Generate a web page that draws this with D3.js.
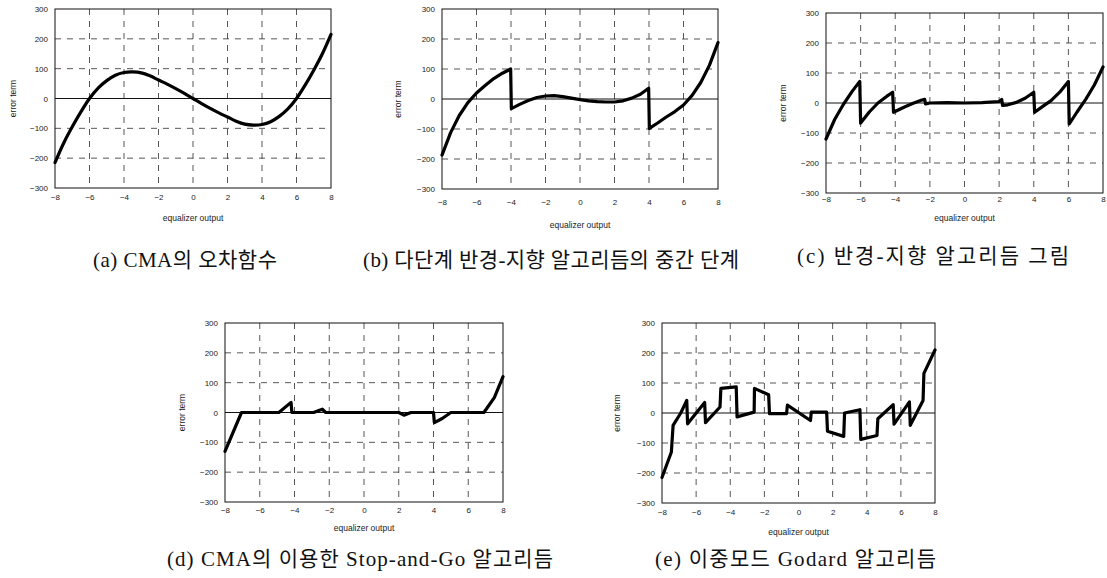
<!DOCTYPE html>
<html>
<head>
<meta charset="utf-8">
<script src="https://cdn.jsdelivr.net/npm/d3@7"></script>
<style>
  body { margin: 0; background: #fff; }
  svg { display: block; }
  .tick text { font-family: "Liberation Sans", Arial, sans-serif; font-size: 8px; fill: #222; }
  .naslov { font-family: "Liberation Sans", Arial, sans-serif; font-size: 8.5px; fill: #222; }
  .opis { font-family: "Liberation Serif", "Noto Sans CJK KR", serif; font-size: 21px; fill: #111; }
</style>
</head>
<body>
<div id="okvir"></div>
<script>
// data
const xTicks = [-8, -6, -4, -2, 0, 2, 4, 6, 8];
const yTicks = [300, 200, 100, 0, -100, -200, -300];
const xLabel = "equalizer output";
const yLabel = "error term";

const captions = [
  "(a) CMA의 오차함수",
  "(b) 다단계 반경-지향 알고리듬의 중간 단계",
  "(c) 반경-지향 알고리듬 그림",
  "(d) CMA의 이용한 Stop-and-Go 알고리듬",
  "(e) 이중모드 Godard 알고리듬"
];

// (a) CMA error function
const xA = [-8,-7.5,-7,-6.5,-6,-5.5,-5,-4.5,-4,-3.5,-3,-2.5,-2,-1.5,-1,-0.5,0,
            0.5,1,1.5,2,2.5,3,3.5,4,4.5,5,5.5,6,6.5,7,7.5,8];
const yA = [-215,-150,-95,-45,0,35,60,78,87,89,86,76,62,48,33,17,0,
            -17,-33,-48,-62,-76,-86,-89,-87,-78,-60,-35,0,45,95,150,215];

// (b) multi-stage radius-directed, intermediate stage
const xB = [-8,-7.5,-7,-6.5,-6,-5.5,-5,-4.5,-4.02,-3.98,-3.5,-3,-2.5,-2,-1.5,-1,-0.5,0,
            0.5,1,1.5,2,2.5,3,3.5,3.98,4.02,4.5,5,5.5,6,6.5,7,7.5,8];
const yB = [-187,-112,-55,-12,20,45,68,86,100,-32,-18,-5,5,10,11,8,3,-2,
            -6,-9,-10,-10,-6,3,16,36,-98,-80,-60,-42,-20,12,55,112,188];

// (c) radius-directed
const xC = [-8,-7.5,-7,-6.5,-6.05,-6,-5.5,-5,-4.5,-4.15,-4.1,-3.5,-3,-2.5,-2.3,-2.25,-2,-1,0,1,2,
            2.15,2.2,2.5,3,3.5,4,4.05,4.5,5,5.5,6,6.05,6.5,7,7.5,8];
const yC = [-120,-55,-5,38,72,-67,-30,0,22,36,-31,-14,-2,9,12,-3,0,1,0,1,5,
            12,-8,-6,2,16,36,-31,-12,8,36,72,-70,-30,12,60,120];

// (d) Stop-and-Go with CMA
const xD = [-8,-7.05,-4.9,-4.2,-4.15,-2.9,-2.4,-2.2,2.0,2.3,2.7,4.0,4.05,4.5,5.0,6.9,7.5,8];
const yD = [-130,0,0,34,0,0,11,0,0,-9,0,0,-34,-20,0,0,50,120];

// (e) dual-mode Godard
const xE = [-8,-7.45,-7.35,-6.9,-6.55,-6.5,-5.5,-5.45,-4.6,-4.55,-3.65,-3.6,-2.6,-2.58,-1.75,-1.7,
            -0.7,-0.65,0.7,0.75,1.65,1.7,2.65,2.7,3.6,3.65,4.6,4.65,5.55,5.6,6.5,6.55,7.3,7.35,8];
const yE = [-215,-130,-41,0,42,-36,35,-32,20,82,87,-13,3,82,61,-2,
            -2,26,-25,3,3,-61,-78,0,11,-88,-75,-19,28,-37,37,-41,42,132,210];

// layout of the five panels
const paneli = [
  { x: xA, y: yA, smooth: true,  l: 55,  t: 9,   r: 331,  b: 188, tickY: 203, titleY: 221, yTitleX: 13,  capX: 93,  capY: 267, capW: 184 },
  { x: xB, y: yB, smooth: false, l: 442, t: 9,   r: 718,  b: 189, tickY: 208, titleY: 228, yTitleX: 398, capX: 363, capY: 267, capW: 376 },
  { x: xC, y: yC, smooth: false, l: 826, t: 13,  r: 1103, b: 193, tickY: 205, titleY: 221, yTitleX: 783, capX: 797, capY: 263, capW: 272 },
  { x: xD, y: yD, smooth: false, l: 225, t: 323, r: 503,  b: 502, tickY: 516, titleY: 531, yTitleX: 182, capX: 167, capY: 566, capW: 386 },
  { x: xE, y: yE, smooth: false, l: 662, t: 323, r: 935,  b: 503, tickY: 518, titleY: 535, yTitleX: 617, capX: 655, capY: 566, capW: 281 }
];

const svg = d3.select("#okvir").append("svg")
  .attr("width", 1107)
  .attr("height", 578);

paneli.forEach((p, i) => {
  const xScale = d3.scaleLinear().domain([-8, 8]).range([p.l, p.r]);
  const yScale = d3.scaleLinear().domain([-300, 300]).range([p.b, p.t]);
  const g = svg.append("g");

  // grid
  g.selectAll(".vgrid").data(xTicks.slice(1, -1)).join("line")
    .attr("x1", d => xScale(d)).attr("x2", d => xScale(d))
    .attr("y1", p.t).attr("y2", p.b)
    .attr("stroke", "#444").attr("stroke-width", 0.9)
    .attr("stroke-dasharray", "6,6");
  g.selectAll(".hgrid").data(yTicks.filter(d => d !== 0 && Math.abs(d) !== 300)).join("line")
    .attr("x1", p.l).attr("x2", p.r)
    .attr("y1", d => yScale(d)).attr("y2", d => yScale(d))
    .attr("stroke", "#444").attr("stroke-width", 0.9)
    .attr("stroke-dasharray", "6,6");
  g.append("line")
    .attr("x1", p.l).attr("x2", p.r)
    .attr("y1", yScale(0)).attr("y2", yScale(0))
    .attr("stroke", "#111").attr("stroke-width", 1);
  g.append("rect")
    .attr("x", p.l).attr("y", p.t)
    .attr("width", p.r - p.l).attr("height", p.b - p.t)
    .attr("fill", "none").attr("stroke", "#111").attr("stroke-width", 1);

  // axes
  const yOs = g.append("g")
    .attr("transform", `translate(${p.l},0)`)
    .call(d3.axisLeft(yScale).tickValues(yTicks).tickSize(0).tickPadding(7).tickFormat(d3.format("d")));
  yOs.select(".domain").remove();

  const xOs = g.append("g")
    .attr("transform", `translate(0,${p.tickY - 9})`)
    .call(d3.axisBottom(xScale).tickValues(xTicks).tickSize(0).tickPadding(0).tickFormat(d3.format("d")));
  xOs.select(".domain").remove();

  g.append("text").attr("class", "naslov")
    .attr("x", (p.l + p.r) / 2).attr("y", p.titleY)
    .attr("text-anchor", "middle")
    .text(xLabel);
  g.append("text").attr("class", "naslov")
    .attr("transform", `translate(${p.yTitleX + 3},${(p.t + p.b) / 2}) rotate(-90)`)
    .attr("text-anchor", "middle")
    .text(yLabel);

  // curve
  const pts = p.x.map((v, k) => [v, p.y[k]]);
  const linija = d3.line()
    .x(d => xScale(d[0]))
    .y(d => yScale(d[1]))
    .curve(p.smooth ? d3.curveCatmullRom : d3.curveLinear);
  g.append("path")
    .attr("d", linija(pts))
    .attr("fill", "none")
    .attr("stroke", "#000")
    .attr("stroke-width", 3.2)
    .attr("stroke-linejoin", "round")
    .attr("stroke-linecap", "round");

  // caption
  g.append("text").attr("class", "opis")
    .attr("x", p.capX).attr("y", p.capY)
    .attr("textLength", p.capW)
    .attr("lengthAdjust", "spacing")
    .text(captions[i]);
});
</script>
</body>
</html>
